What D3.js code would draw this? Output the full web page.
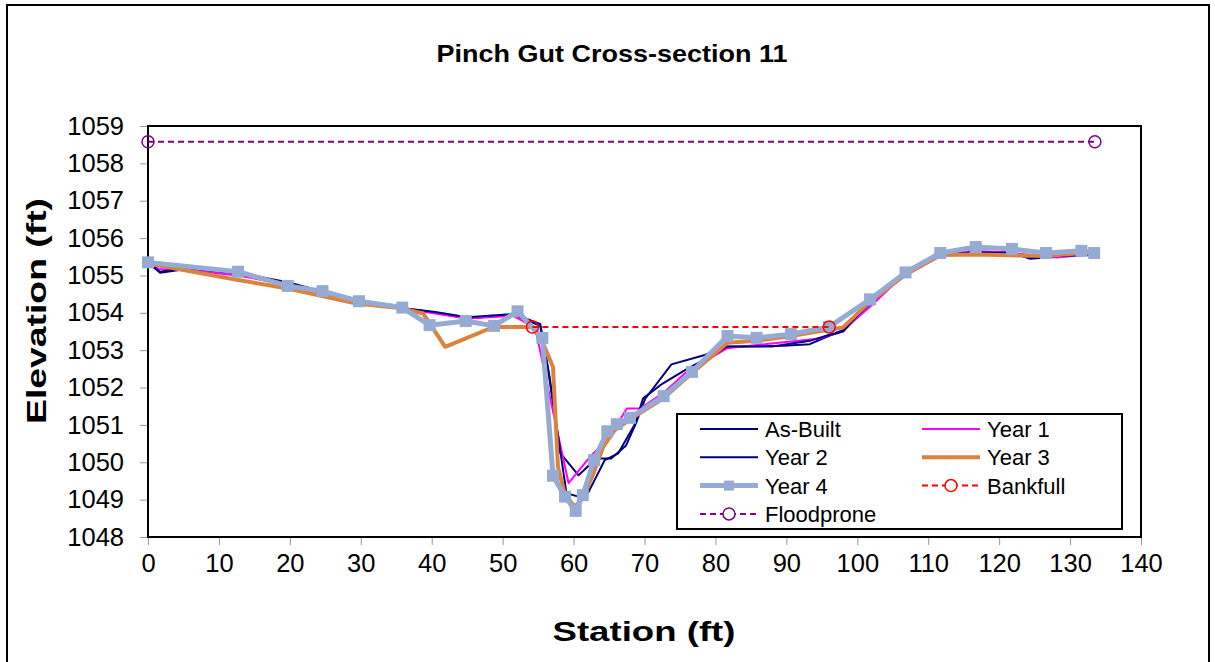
<!DOCTYPE html>
<html>
<head>
<meta charset="utf-8">
<script src="https://cdn.jsdelivr.net/npm/d3@7"></script>
<style>
  body { margin: 0; background: #fff; }
  svg text { font-family: "Liberation Sans", Arial, sans-serif; }
</style>
</head>
<body>
<script>
// station (ft), elevation (ft) pairs
const asBuilt = [[0,1055.35],[1.7,1055.07],[5.4,1055.17],[12.7,1055.05],[19.7,1054.8],[24.6,1054.55],[29.7,1054.3],[35.8,1054.13],[40.5,1054.0],[45,1053.85],[51.5,1053.95],[55.3,1053.65],[56.4,1052.5],[58.1,1050.25],[60.7,1049.65],[63.2,1050.1],[65.3,1050.1],[67.4,1050.45],[68.8,1051.05],[70.1,1051.7],[73.8,1052.62],[78.5,1052.87],[81.6,1053.09],[89.6,1053.12],[93.3,1053.16],[96.2,1053.4],[98,1053.5],[101.8,1054.25],[106.5,1055.0],[111.7,1055.55],[116.8,1055.63],[121.5,1055.62],[124.3,1055.45],[126.7,1055.48],[131.4,1055.54],[133.5,1055.55]];
const year1 = [[0,1055.35],[1.5,1055.17],[5.4,1055.15],[12.7,1055.0],[19.7,1054.75],[24.6,1054.52],[29.7,1054.28],[35.8,1054.12],[40.5,1053.98],[45,1053.85],[51.5,1053.92],[54.6,1053.6],[56.6,1051.8],[59.3,1049.44],[62.2,1050.12],[65.1,1050.68],[67.5,1051.44],[69.4,1051.44],[72.9,1051.89],[75.7,1052.38],[81.6,1053.05],[90,1053.22],[94.7,1053.31],[98,1053.54],[101.8,1054.16],[106,1054.92],[111.7,1055.52],[115.4,1055.66],[120.1,1055.63],[128.1,1055.48],[131.4,1055.54],[133.5,1055.55]];
const year2 = [[0,1055.35],[1.7,1055.1],[5.4,1055.2],[12.7,1055.07],[19.7,1054.82],[24.6,1054.57],[29.7,1054.3],[35.8,1054.13],[40.5,1054.02],[45,1053.88],[51.5,1053.97],[55.3,1053.7],[56.6,1052.3],[59.0,1049.17],[60.7,1049.08],[62.1,1049.2],[64.4,1050.06],[66.3,1050.24],[68.7,1051.04],[69.8,1051.71],[72.5,1052.1],[76,1052.5],[80,1052.9],[81.6,1053.1],[88,1053.1],[93.3,1053.25],[96.2,1053.42],[98,1053.52],[101.8,1054.28],[106.5,1055.02],[111.7,1055.56],[116.8,1055.62],[121.5,1055.6],[124.3,1055.47],[126.7,1055.5],[131.4,1055.55],[133.5,1055.56]];
const year3 = [[0,1055.32],[12.7,1054.88],[19.7,1054.65],[29.4,1054.25],[35.8,1054.12],[38.8,1053.98],[41.9,1053.09],[48.7,1053.62],[54.1,1053.62],[55.5,1053.27],[57.1,1052.55],[57.8,1049.88],[58.8,1049.12],[60.2,1048.81],[61.4,1049.08],[62.8,1049.7],[64.2,1050.42],[65.8,1050.86],[68,1051.15],[72.7,1051.72],[76.8,1052.4],[81.7,1053.2],[85.8,1053.25],[90.7,1053.38],[96,1053.55],[98,1053.61],[101.8,1054.3],[106.8,1055.02],[111.7,1055.55],[116.7,1055.56],[121.7,1055.54],[126.6,1055.52],[131.6,1055.6],[133.4,1055.6]];
const year4 = [[0,1055.35],[12.7,1055.1],[19.7,1054.72],[24.6,1054.58],[29.75,1054.31],[35.85,1054.14],[39.7,1053.67],[44.8,1053.78],[48.8,1053.65],[52.1,1054.04],[55.6,1053.33],[57.1,1049.64],[58.8,1049.08],[60.3,1048.7],[61.3,1049.12],[62.9,1050.06],[64.75,1050.83],[66.1,1051.02],[67.95,1051.19],[72.7,1051.77],[76.7,1052.42],[81.7,1053.38],[85.8,1053.33],[90.65,1053.43],[96,1053.62],[101.8,1054.36],[106.8,1055.08],[111.7,1055.6],[116.7,1055.76],[121.8,1055.71],[126.6,1055.6],[131.6,1055.66],[133.4,1055.6]];
const bankfull = [[54.2,1053.62],[96.05,1053.62]];
const floodprone = [[0,1058.58],[133.5,1058.58]];

const xTicks = [0,10,20,30,40,50,60,70,80,90,100,110,120,130,140];
const yTicks = [1048,1049,1050,1051,1052,1053,1054,1055,1056,1057,1058,1059];

const W = 1215, H = 662;
const plot = {left: 148, right: 1141, top: 126, bottom: 537};

const svg = d3.select("body").append("svg")
    .attr("width", W)
    .attr("height", H);

// outer chart frame
svg.append("rect")
    .attr("x", 7).attr("y", 5)
    .attr("width", 1202).attr("height", 700)
    .attr("fill", "#fff")
    .attr("stroke", "#000")
    .attr("stroke-width", 2);

const x = d3.scaleLinear().domain([0, 140]).range([plot.left, plot.right]);
const y = d3.scaleLinear().domain([1048, 1059]).range([plot.bottom, plot.top]);

// axes
const xAxis = svg.append("g")
    .attr("transform", "translate(0," + plot.bottom + ")")
    .call(d3.axisBottom(x).tickValues(xTicks).tickSize(8).tickPadding(9));
const yAxis = svg.append("g")
    .attr("transform", "translate(" + plot.left + ",0)")
    .call(d3.axisLeft(y).tickValues(yTicks).tickFormat(d3.format("d")).tickSize(8).tickPadding(16));

[xAxis, yAxis].forEach(function(g) {
  g.select(".domain").remove();
  g.selectAll(".tick line").attr("stroke", "#999").attr("stroke-width", 1);
  g.selectAll(".tick text")
      .attr("font-size", 25.5)
      .attr("fill", "#000")
      .style("font-family", "'Liberation Sans', Arial, sans-serif");
});

// plot frame
svg.append("rect")
    .attr("x", plot.left).attr("y", plot.top)
    .attr("width", plot.right - plot.left).attr("height", plot.bottom - plot.top)
    .attr("fill", "none")
    .attr("stroke", "#000")
    .attr("stroke-width", 2);

const line = d3.line()
    .x(function(d) { return x(d[0]); })
    .y(function(d) { return y(d[1]); });

const series = [
  {name: "As-Built", data: asBuilt, color: "#000080", width: 2},
  {name: "Year 1", data: year1, color: "#ff00ff", width: 2},
  {name: "Year 2", data: year2, color: "#000080", width: 2},
  {name: "Year 3", data: year3, color: "#dd823b", width: 4},
  {name: "Year 4", data: year4, color: "#95abd3", width: 5, marker: "square"},
  {name: "Bankfull", data: bankfull, color: "#ff0000", width: 2, dash: "6,4", marker: "circle"},
  {name: "Floodprone", data: floodprone, color: "#800080", width: 2, dash: "6,4", marker: "circle"}
];

series.forEach(function(s) {
  svg.append("path")
      .datum(s.data)
      .attr("fill", "none")
      .attr("stroke", s.color)
      .attr("stroke-width", s.width)
      .attr("stroke-dasharray", s.dash || null)
      .attr("stroke-linejoin", "round")
      .attr("d", line);
  if (s.marker === "square") {
    svg.selectAll(null).data(s.data).enter().append("rect")
        .attr("x", function(d) { return x(d[0]) - 6; })
        .attr("y", function(d) { return y(d[1]) - 6; })
        .attr("width", 12).attr("height", 12)
        .attr("fill", s.color);
  } else if (s.marker === "circle") {
    svg.selectAll(null).data(s.data).enter().append("circle")
        .attr("cx", function(d) { return x(d[0]); })
        .attr("cy", function(d) { return y(d[1]); })
        .attr("r", 6)
        .attr("fill", "none")
        .attr("stroke", s.color)
        .attr("stroke-width", 1.5);
  }
});

// legend
const legend = svg.append("g");
legend.append("rect")
    .attr("x", 677).attr("y", 414)
    .attr("width", 445).attr("height", 115)
    .attr("fill", "#fff")
    .attr("stroke", "#000")
    .attr("stroke-width", 2);

series.forEach(function(s, i) {
  const col = i % 2, row = Math.floor(i / 2);
  const lx = col === 0 ? 700 : 922;
  const ly = 429 + row * 28.3;
  const g = legend.append("g");
  g.append("line")
      .attr("x1", lx).attr("x2", lx + 58)
      .attr("y1", ly).attr("y2", ly)
      .attr("stroke", s.color)
      .attr("stroke-width", s.width)
      .attr("stroke-dasharray", s.dash || null);
  if (s.marker === "square") {
    g.append("rect")
        .attr("x", lx + 29 - 5).attr("y", ly - 5)
        .attr("width", 10).attr("height", 10)
        .attr("fill", s.color);
  } else if (s.marker === "circle") {
    g.append("circle")
        .attr("cx", lx + 29).attr("cy", ly).attr("r", 6)
        .attr("fill", "#fff")
        .attr("stroke", s.color)
        .attr("stroke-width", 1.5);
  }
  g.append("text")
      .attr("x", lx + 65).attr("y", ly)
      .attr("dy", "0.36em")
      .attr("font-size", 22)
      .text(s.name);
});

// titles
svg.append("text")
    .attr("x", 612).attr("y", 62)
    .attr("text-anchor", "middle")
    .attr("font-size", 24)
    .attr("font-weight", "bold")
    .attr("textLength", 351)
    .attr("lengthAdjust", "spacingAndGlyphs")
    .text("Pinch Gut Cross-section 11");

svg.append("text")
    .attr("x", 644).attr("y", 641)
    .attr("text-anchor", "middle")
    .attr("font-size", 27)
    .attr("font-weight", "bold")
    .attr("textLength", 183)
    .attr("lengthAdjust", "spacingAndGlyphs")
    .text("Station (ft)");

svg.append("text")
    .attr("transform", "translate(46,311) rotate(-90)")
    .attr("text-anchor", "middle")
    .attr("font-size", 27)
    .attr("font-weight", "bold")
    .attr("textLength", 226)
    .attr("lengthAdjust", "spacingAndGlyphs")
    .text("Elevation (ft)");
</script>
</body>
</html>
